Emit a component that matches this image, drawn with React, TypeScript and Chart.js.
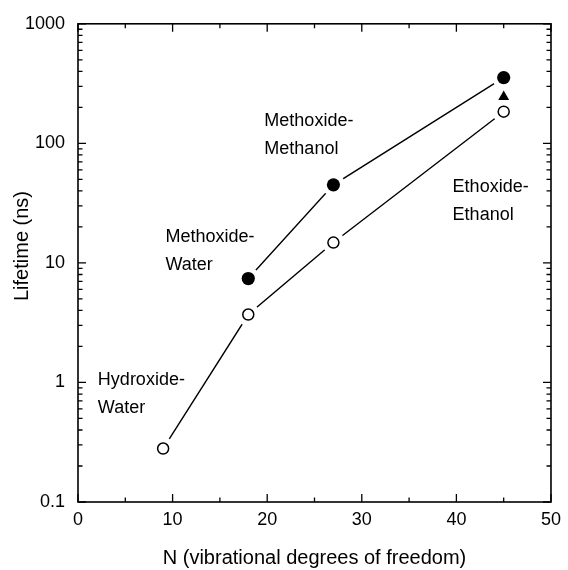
import React, { useEffect, useRef } from "react";
import { Chart, registerables } from "chart.js";

Chart.register(...registerables);

// ---- data ----
const N_OPEN = [9, 18, 27, 45];
const LIFETIME_OPEN = [0.28, 3.7, 14.8, 184];
const N_FILLED = [18, 27, 45];
const LIFETIME_FILLED = [7.4, 45, 355];
const N_TRIANGLE = [45];
const LIFETIME_TRIANGLE = [245];

const X_TICKS = [0, 10, 20, 30, 40, 50];
const X_MINOR = [5, 15, 25, 35, 45];
const Y_TICKS = [0.1, 1, 10, 100, 1000];
const Y_TICK_LABELS = ["0.1", "1", "10", "100", "1000"];

const X_TITLE = "N (vibrational degrees of freedom)";
const Y_TITLE = "Lifetime (ns)";

const LABEL_TEXTS = [
  ["Methoxide-", "Methanol"],
  ["Ethoxide-", "Ethanol"],
  ["Methoxide-", "Water"],
  ["Hydroxide-", "Water"],
];
const LABEL_X = [19.7, 39.6, 9.25, 2.1];
const LABEL_Y = [155, 43, 16.6, 1.04];

const FONT = "'Liberation Sans', Arial, Helvetica, sans-serif";

const toXY = (xs: number[], ys: number[]) => xs.map((x, i) => ({ x, y: ys[i] }));

const framePlugin = {
  id: "frame",
  beforeDraw(chart: any) {
    const ctx = chart.ctx;
    ctx.save();
    ctx.fillStyle = "#fff";
    ctx.fillRect(0, 0, chart.width, chart.height);
    ctx.restore();
  },
  afterDraw(chart: any) {
    const ctx = chart.ctx;
    const { left, right, top, bottom } = chart.chartArea;
    const xs = chart.scales.x;
    const ys = chart.scales.y;
    ctx.save();
    ctx.strokeStyle = "#000";
    ctx.lineWidth = 1.6;
    ctx.strokeRect(left, top, right - left, bottom - top);
    ctx.lineWidth = 1.3;
    const MAJ = 8;
    const MIN = 4.5;
    const xt = (v: number, len: number) => {
      const p = xs.getPixelForValue(v);
      ctx.beginPath();
      ctx.moveTo(p, bottom);
      ctx.lineTo(p, bottom - len);
      ctx.moveTo(p, top);
      ctx.lineTo(p, top + len);
      ctx.stroke();
    };
    X_TICKS.forEach((v) => xt(v, MAJ));
    X_MINOR.forEach((v) => xt(v, MIN));
    const yt = (v: number, len: number) => {
      const p = ys.getPixelForValue(v);
      ctx.beginPath();
      ctx.moveTo(left, p);
      ctx.lineTo(left + len, p);
      ctx.moveTo(right, p);
      ctx.lineTo(right - len, p);
      ctx.stroke();
    };
    Y_TICKS.forEach((v) => yt(v, MAJ));
    for (let d = 0; d < Y_TICKS.length - 1; d++) {
      for (let m = 2; m <= 9; m++) yt(Y_TICKS[d] * m, MIN);
    }
    // annotations
    ctx.fillStyle = "#000";
    ctx.font = `18px ${FONT}`;
    ctx.textAlign = "left";
    ctx.textBaseline = "middle";
    LABEL_TEXTS.forEach((lines, i) => {
      const x = xs.getPixelForValue(LABEL_X[i]);
      const y = ys.getPixelForValue(LABEL_Y[i]);
      lines.forEach((t, j) => ctx.fillText(t, x, y + j * 28));
    });
    // y title
    ctx.font = `20px ${FONT}`;
    ctx.textAlign = "center";
    ctx.translate(22, 246);
    ctx.rotate(-Math.PI / 2);
    ctx.fillText(Y_TITLE, 0, 0);
    ctx.restore();
  },
};

export default function App() {
  const ref = useRef<HTMLCanvasElement | null>(null);
  useEffect(() => {
    if (!ref.current) return;
    const chart = new Chart(ref.current, {
      type: "scatter",
      data: {
        datasets: [
          {
            data: toXY(N_OPEN, LIFETIME_OPEN),
            showLine: true,
            borderColor: "#000",
            borderWidth: 1.4,
            pointRadius: 0,
            order: 3,
          },
          {
            data: toXY(N_FILLED, LIFETIME_FILLED),
            showLine: true,
            borderColor: "#000",
            borderWidth: 1.4,
            pointRadius: 0,
            order: 3,
          },
          {
            data: toXY(N_OPEN, LIFETIME_OPEN),
            showLine: false,
            pointRadius: 11.5,
            pointBackgroundColor: "#fff",
            pointBorderWidth: 0,
            pointBorderColor: "#fff",
            order: 2,
          },
          {
            data: toXY(N_FILLED, LIFETIME_FILLED),
            showLine: false,
            pointRadius: 11.5,
            pointBackgroundColor: "#fff",
            pointBorderWidth: 0,
            pointBorderColor: "#fff",
            order: 2,
          },
          {
            data: toXY(N_OPEN, LIFETIME_OPEN),
            showLine: false,
            pointRadius: 5.5,
            pointBackgroundColor: "#fff",
            pointBorderColor: "#000",
            pointBorderWidth: 1.5,
            order: 1,
          },
          {
            data: toXY(N_FILLED, LIFETIME_FILLED),
            showLine: false,
            pointRadius: 6.6,
            pointBackgroundColor: "#000",
            pointBorderColor: "#000",
            pointBorderWidth: 0,
            order: 1,
          },
          {
            data: toXY(N_TRIANGLE, LIFETIME_TRIANGLE),
            showLine: false,
            pointStyle: "triangle",
            pointRadius: 6.3,
            pointBackgroundColor: "#000",
            pointBorderColor: "#000",
            pointBorderWidth: 0,
            order: 1,
          },
        ],
      },
      options: {
        responsive: false,
        animation: false,
        events: [],
        layout: { padding: { top: 23, right: 11, bottom: 0, left: 0 } },
        plugins: { legend: { display: false }, tooltip: { enabled: false } },
        scales: {
          x: {
            type: "linear",
            min: 0,
            max: 50,
            grid: { display: false, drawTicks: false },
            border: { display: false },
            afterBuildTicks: (s: any) => {
              s.ticks = X_TICKS.map((v) => ({ value: v }));
            },
            afterFit: (s: any) => {
              s.height = 68;
            },
            ticks: {
              color: "#000",
              padding: 7,
              font: { family: FONT, size: 18 },
              maxRotation: 0,
              autoSkip: false,
              callback: (v: any) => String(v),
            },
            title: {
              display: true,
              text: X_TITLE,
              color: "#000",
              font: { family: FONT, size: 20 },
              padding: { top: 0, bottom: 0 },
            },
          },
          y: {
            type: "logarithmic",
            min: 0.1,
            max: 1000,
            grid: { display: false, drawTicks: false },
            border: { display: false },
            afterBuildTicks: (s: any) => {
              s.ticks = Y_TICKS.map((v) => ({ value: v }));
            },
            afterFit: (s: any) => {
              s.width = 78;
            },
            ticks: {
              color: "#000",
              padding: 13,
              font: { family: FONT, size: 18 },
              autoSkip: false,
              callback: (v: any) => {
                const i = Y_TICKS.indexOf(Number(v));
                return i >= 0 ? Y_TICK_LABELS[i] : "";
              },
            },
            title: { display: false },
          },
        },
      },
      plugins: [framePlugin],
    });
    return () => chart.destroy();
  }, []);
  return (
    <div style={{ position: "absolute", left: 0, top: 0, width: 568, height: 570 }}>
      <canvas ref={ref} width={568} height={570} style={{ display: "block" }} />
    </div>
  );
}
